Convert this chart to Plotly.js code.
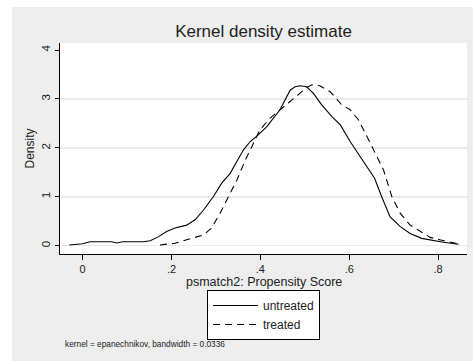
<!DOCTYPE html>
<html>
<head>
<meta charset="utf-8">
<script src="https://cdn.plot.ly/plotly-3.0.1.min.js"></script>
<style>html,body{margin:0;padding:0;background:#fff;}#chart{width:473px;height:361px;}</style>
</head>
<body>
<div id="chart"></div>
<script>
// Untreated kernel density
var untreatedX = [-0.030, 0.000, 0.016, 0.040, 0.065, 0.077, 0.090, 0.120, 0.137, 0.152, 0.170, 0.189, 0.208, 0.234, 0.253, 0.272, 0.294, 0.313, 0.332, 0.347, 0.362, 0.377, 0.392, 0.414, 0.444, 0.467, 0.478, 0.489, 0.504, 0.519, 0.538, 0.561, 0.580, 0.602, 0.625, 0.647, 0.657, 0.673, 0.692, 0.715, 0.737, 0.763, 0.790, 0.812, 0.846];
var untreatedY = [0.015, 0.04, 0.08, 0.08, 0.08, 0.055, 0.08, 0.08, 0.08, 0.10, 0.18, 0.29, 0.36, 0.42, 0.53, 0.73, 1.00, 1.28, 1.48, 1.72, 1.96, 2.13, 2.24, 2.43, 2.78, 3.18, 3.25, 3.27, 3.25, 3.12, 2.88, 2.64, 2.47, 2.13, 1.82, 1.51, 1.38, 1.00, 0.59, 0.39, 0.25, 0.15, 0.10, 0.07, 0.03];
// Treated kernel density
var treatedX = [0.174, 0.208, 0.234, 0.255, 0.272, 0.290, 0.309, 0.328, 0.347, 0.366, 0.384, 0.399, 0.422, 0.444, 0.467, 0.489, 0.505, 0.516, 0.534, 0.557, 0.583, 0.602, 0.621, 0.640, 0.658, 0.677, 0.696, 0.715, 0.737, 0.760, 0.782, 0.804, 0.827, 0.846];
var treatedY = [0.015, 0.05, 0.12, 0.17, 0.22, 0.36, 0.66, 1.00, 1.34, 1.75, 2.09, 2.37, 2.61, 2.78, 2.94, 3.12, 3.24, 3.29, 3.27, 3.15, 2.88, 2.78, 2.57, 2.23, 1.89, 1.55, 1.00, 0.66, 0.42, 0.29, 0.17, 0.12, 0.07, 0.035];
// Axis ticks
var xTickVals = [0, 0.2, 0.4, 0.6, 0.8];
var xTickText = ["0", ".2", ".4", ".6", ".8"];
var yTickVals = [0, 1, 2, 3, 4];
var yGridVals = [0, 1, 2, 3];

var FONT = "Arial, 'Liberation Sans', sans-serif";
var TXT = "#222";

var traces = [
  {x: untreatedX, y: untreatedY, type: "scatter", mode: "lines", name: "untreated",
   line: {color: "#000", width: 1.1}},
  {x: treatedX, y: treatedY, type: "scatter", mode: "lines", name: "treated",
   line: {color: "#000", width: 1.1, dash: "7px,5px"}},
  {x: [0], y: [0], yaxis: "y2", type: "scatter", mode: "lines", showlegend: false,
   hoverinfo: "skip", line: {width: 0}, opacity: 0}
];

var yRange = [-0.17, 4.145];

var layout = {
  width: 473, height: 361,
  margin: {l: 60, r: 6, t: 43, b: 107},
  paper_bgcolor: "#eeeeee",
  plot_bgcolor: "#ffffff",
  font: {family: FONT, color: TXT, size: 12},
  title: {text: "Kernel density estimate", font: {family: FONT, size: 17, color: TXT},
          x: 0.5, xref: "paper", xanchor: "center", y: 1 - 31/361, yref: "container", yanchor: "middle"},
  xaxis: {
    range: [-0.051, 0.865], tickvals: xTickVals, ticktext: xTickText,
    showgrid: false, zeroline: false, showline: true, linecolor: "#000", linewidth: 1,
    ticks: "outside", ticklen: 5, tickcolor: "#000", tickwidth: 1,
    tickfont: {family: FONT, size: 11, color: TXT},
    automargin: false, fixedrange: true
  },
  yaxis: {
    range: yRange, tickvals: yTickVals, ticktext: yTickVals.map(String),
    showgrid: false, zeroline: false, showline: true, linecolor: "#000", linewidth: 1,
    ticks: "outside", ticklen: 4, tickcolor: "#000", tickwidth: 1, tickangle: -90,
    tickfont: {family: FONT, size: 11.5, color: TXT},
    title: {text: "Density", font: {family: FONT, size: 12, color: TXT}, standoff: 3},
    automargin: false, fixedrange: true
  },
  yaxis2: {
    range: yRange, overlaying: "y", tickvals: yGridVals, showticklabels: false,
    showgrid: true, gridcolor: "#e9e9e9", gridwidth: 1.5, zeroline: false,
    showline: false, ticks: "", fixedrange: true
  },
  shapes: [
    {type: "rect", xref: "paper", yref: "paper", x0: -60/407, x1: (12-60)/407,
     y0: (254-361)/211, y1: 254/211, fillcolor: "#ffffff", line: {width: 0}, layer: "above"},
    {type: "rect", xref: "paper", yref: "paper", x0: -60/407, x1: 413/407,
     y0: (254-7)/211, y1: 254/211, fillcolor: "#ffffff", line: {width: 0}, layer: "above"}
  ],
  legend: {
    x: 0.5, xanchor: "center", y: (254-290)/211, yanchor: "top",
    bgcolor: "#ffffff", bordercolor: "#000", borderwidth: 1,
    font: {family: FONT, size: 12, color: TXT}, itemwidth: 45, tracegroupgap: 0
  },
  annotations: [
    {text: "psmatch2: Propensity Score", xref: "paper", yref: "paper",
     x: 0.5, y: (254-282)/211, xanchor: "center", yanchor: "middle",
     showarrow: false, font: {family: FONT, size: 12.5, color: TXT}},
    {text: "kernel = epanechnikov, bandwidth = 0.0336", xref: "paper", yref: "paper",
     x: (62.7-60)/407, y: (254-344.3)/211, xanchor: "left", yanchor: "middle",
     showarrow: false, font: {family: FONT, size: 8.3, color: TXT}}
  ]
};

Plotly.newPlot("chart", traces, layout, {displayModeBar: false, staticPlot: true});
</script>
</body>
</html>
